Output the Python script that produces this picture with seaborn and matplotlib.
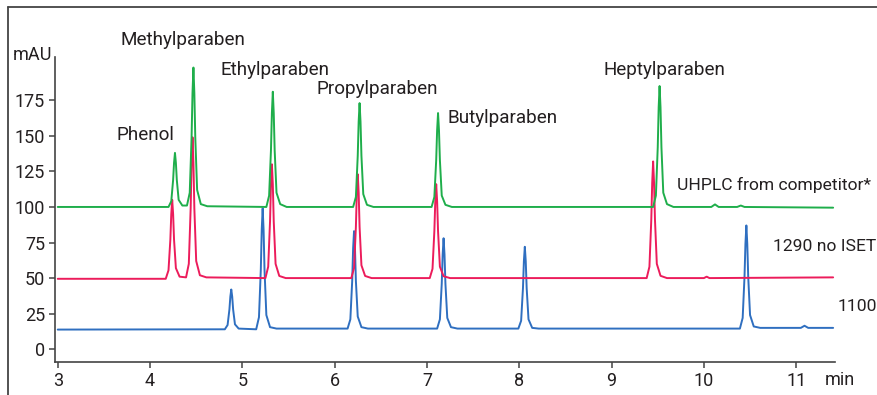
import matplotlib
matplotlib.use("Agg")
import matplotlib.pyplot as plt
from matplotlib.lines import Line2D
import seaborn as sns
import pandas as pd

# ---- data (time in min, signal in mAU) ----
uhplc_t = [3.00,
           4.20, 4.23, 4.25, 4.26, 4.27, 4.28, 4.29, 4.31, 4.35,
           4.40, 4.43, 4.45, 4.46, 4.47, 4.48, 4.49, 4.51, 4.55, 4.62,
           5.26, 5.29, 5.31, 5.32, 5.33, 5.34, 5.35, 5.37, 5.41, 5.48,
           6.20, 6.23, 6.25, 6.26, 6.27, 6.28, 6.29, 6.31, 6.35, 6.42,
           7.05, 7.08, 7.10, 7.11, 7.12, 7.13, 7.14, 7.16, 7.20, 7.27,
           9.45, 9.48, 9.50, 9.51, 9.52, 9.53, 9.54, 9.56, 9.60, 9.67,
           10.08, 10.12, 10.16, 10.36, 10.40, 10.44, 11.40]
uhplc_v = [100.0,
           100, 104, 119, 131, 138, 131, 119, 105, 101,
           101, 110, 149, 180, 198, 180, 149, 112, 102, 100.5,
           100, 108, 140, 166, 181, 166, 140, 110, 102, 100,
           100, 107, 136, 160, 173, 160, 136, 109, 101.5, 100,
           100, 107, 133, 154, 166, 154, 133, 108, 101.5, 100,
           100, 108, 142, 170, 185, 170, 142, 110, 102, 100,
           100, 101.8, 100, 100, 101, 100, 99.5]

i1290_t = [3.00,
           4.17, 4.20, 4.22, 4.23, 4.24, 4.25, 4.26, 4.28, 4.32,
           4.39, 4.42, 4.44, 4.45, 4.46, 4.47, 4.48, 4.50, 4.54, 4.61,
           5.25, 5.28, 5.30, 5.31, 5.32, 5.33, 5.34, 5.36, 5.40, 5.47,
           6.18, 6.21, 6.23, 6.24, 6.25, 6.26, 6.27, 6.29, 6.33, 6.40,
           7.03, 7.06, 7.08, 7.09, 7.10, 7.11, 7.12, 7.14, 7.18, 7.25,
           9.38, 9.41, 9.43, 9.44, 9.45, 9.46, 9.47, 9.49, 9.53, 9.60,
           10.00, 10.03, 10.06, 11.40]
i1290_v = [49.5,
           49.5, 55.5, 77, 95, 105, 95, 77, 57, 51,
           50.5, 60, 99, 131, 149, 131, 99, 62, 52, 50.5,
           50, 58, 90, 116, 130, 116, 90, 60, 51.5, 50,
           50, 57, 86, 110, 123, 110, 86, 59, 51.5, 50,
           50, 56.5, 83, 104, 116, 104, 83, 58, 51.3, 50,
           50, 58, 91, 117, 132, 117, 91, 60, 51.6, 50,
           50, 51, 50, 50.5]

i1100_t = [3.00,
           4.81, 4.84, 4.86, 4.87, 4.88, 4.89, 4.90, 4.92, 4.96,
           5.15, 5.18, 5.20, 5.21, 5.22, 5.23, 5.24, 5.26, 5.30, 5.37,
           6.14, 6.17, 6.19, 6.20, 6.21, 6.22, 6.23, 6.25, 6.29, 6.36,
           7.11, 7.14, 7.16, 7.17, 7.18, 7.19, 7.20, 7.22, 7.26, 7.33,
           7.99, 8.02, 8.04, 8.05, 8.06, 8.07, 8.08, 8.10, 8.14, 8.21,
           10.39, 10.42, 10.44, 10.45, 10.46, 10.47, 10.48, 10.50, 10.54, 10.61,
           11.05, 11.09, 11.13, 11.40]
i1100_v = [13.8,
           14, 17, 28, 37, 42, 37, 28, 17.5, 14.5,
           14, 22.5, 56, 84, 99, 84, 56, 24, 15.5, 14.5,
           14.5, 21, 48, 71, 83, 71, 48, 23, 15.5, 14.5,
           14.5, 21, 46, 66.5, 78, 66.5, 46, 22, 15.5, 14.5,
           14.5, 20, 43, 62, 72, 62, 43, 21, 15, 14.5,
           14.5, 22, 51, 74, 87, 74, 51, 24, 16, 15,
           15, 16.5, 15, 15]

series_names = ["UHPLC from competitor*", "1290 no ISET", "1100"]
peak_names = ["Phenol", "Methylparaben", "Ethylparaben", "Propylparaben", "Butylparaben", "Heptylparaben"]
y_ticks = [0, 25, 50, 75, 100, 125, 150, 175]
x_ticks = [3, 4, 5, 6, 7, 8, 9, 10, 11]

df = pd.concat([
    pd.DataFrame({"t": uhplc_t, "v": uhplc_v, "s": series_names[0]}),
    pd.DataFrame({"t": i1290_t, "v": i1290_v, "s": series_names[1]}),
    pd.DataFrame({"t": i1100_t, "v": i1100_v, "s": series_names[2]}),
])

sns.set_theme(style="ticks")
plt.rcParams["font.family"] = ["Roboto", "DejaVu Sans"]
TXT = "#231f20"

fig = plt.figure(figsize=(8.78, 3.95), dpi=100)
ax = fig.add_axes([0.0626, 0.0835, 0.8884, 0.7725])

palette = {series_names[0]: "#1fae4b", series_names[1]: "#ec1c5b", series_names[2]: "#2f6fc0"}
sns.lineplot(data=df, x="t", y="v", hue="s", palette=palette, hue_order=series_names[::-1],
             sort=False, estimator=None, lw=1.4, legend=False, ax=ax)

ax.set_xlim(2.97, 11.42)
ax.set_ylim(-9, 205.5)
ax.set_xticks(x_ticks)
ax.set_yticks(y_ticks)
ax.set_xlabel("")
ax.set_ylabel("")
for s in ["top", "right"]:
    ax.spines[s].set_visible(False)
for s in ["left", "bottom"]:
    ax.spines[s].set_color("#444444")
    ax.spines[s].set_linewidth(1.2)
ax.tick_params(axis="both", direction="out", length=4, width=1.1, color="#444444",
               labelsize=13, labelcolor=TXT, pad=3)

# peak labels (data coordinates)
peak_x = [3.64, 3.68, 4.76, 5.80, 7.22, 8.91]
peak_y = [150.7, 217.6, 196.5, 183.0, 162.7, 196.5]
for name, px, py in zip(peak_names, peak_x, peak_y):
    ax.text(px, py, name, fontsize=13.6, color=TXT, ha="left", va="center", clip_on=False)

series_x = [9.71, 10.75, 11.45]
series_y = [115.5, 72.5, 30.0]
for name, px, py in zip(series_names, series_x, series_y):
    ax.text(px, py, name, fontsize=12.6, color=TXT, ha="left", va="center", clip_on=False)

fig.text(13 / 878, 1 - 55 / 395, "mAU", fontsize=13, color=TXT, ha="left", va="center")
fig.text(825 / 878, 1 - 380 / 395, "min", fontsize=13, color=TXT, ha="left", va="center")

# outer frame lines (top and left)
fig.add_artist(Line2D([8 / 878, 1.0], [1 - 7 / 395, 1 - 7 / 395], transform=fig.transFigure,
                      color="#444444", lw=1.3))
fig.add_artist(Line2D([8 / 878, 8 / 878], [0, 1 - 7 / 395], transform=fig.transFigure,
                      color="#444444", lw=1.3))

fig.savefig("out.png", dpi=100)
